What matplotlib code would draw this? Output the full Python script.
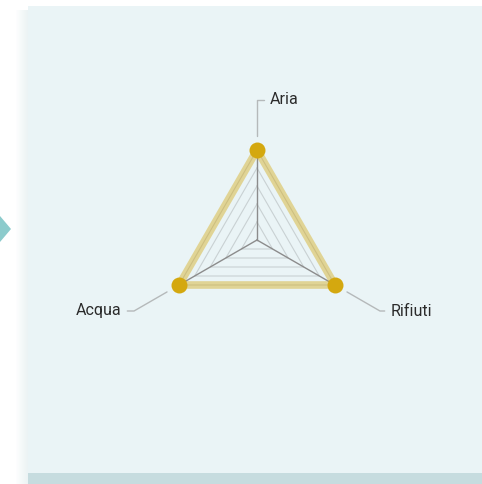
import numpy as np
import matplotlib.pyplot as plt
from matplotlib.patches import Rectangle, Polygon

# data
categories = ['Aria', 'Rifiuti', 'Acqua']
values = [100, 100, 100]
max_value = 100
grid_levels = [20, 40, 60, 80, 100]

W, H = 482, 484
fig = plt.figure(figsize=(W / 100, H / 100), dpi=100)
fig.patch.set_facecolor('white')

# background card, pixel coordinates
bg = fig.add_axes([0, 0, 1, 1])
bg.set_xlim(0, W)
bg.set_ylim(H, 0)
bg.set_axis_off()
for i, a in enumerate(np.linspace(0.02, 0.22, 12)):
    bg.add_patch(Rectangle((16 + i, 10), 1, 474, color='#a9cbce', alpha=a, lw=0))
bg.add_patch(Rectangle((28, 473), W - 28, 11, color='#c6dcdf', lw=0))
bg.add_patch(Rectangle((28, 6), W - 28, 467, color='#eaf4f6', lw=0))
bg.add_patch(Polygon([(0, 216), (11, 229), (0, 242)], closed=True, color='#8ccbcc', lw=0))

# radar
cx, cy, R = 257, 240, 90
ax = fig.add_axes([(cx - R) / W, (H - cy - R) / H, 2 * R / W, 2 * R / H], projection='polar')
ax.set_theta_offset(np.pi / 2)
ax.set_theta_direction(-1)
ax.set_ylim(0, max_value)
ax.set_axis_off()
ax.patch.set_alpha(0)

theta = np.deg2rad(np.arange(len(categories)) * 360 / len(categories))
th_closed = np.append(theta, theta[0])

for lv in grid_levels:
    ax.plot(th_closed, [lv] * len(th_closed), color='#c9d1d3', lw=0.8, zorder=1)
for t in theta:
    ax.plot([t, t], [0, max_value], color='#8c8c8c', lw=1.0, zorder=2)

vals_closed = values + values[:1]
ax.plot(th_closed, vals_closed, color='#d4a80f', alpha=0.42, lw=5.5,
        solid_joinstyle='miter', zorder=3, clip_on=False)
ax.plot(theta, values, 'o', color='#d4a80f', ms=11.5, mec='none', zorder=4, clip_on=False)

# labels with leader lines
label_setup = {
    'Aria': ((13, 50), 'left', 90),
    'Rifiuti': ((56, -26), 'left', -30),
    'Acqua': ((-58, -26), 'right', 30),
}
for t, name in zip(theta, categories):
    off, ha, ang = label_setup[name]
    ax.annotate(name, xy=(t, max_value), xytext=off, textcoords='offset pixels',
                ha=ha, va='center', fontsize=11.5, color='#2b2b2b', family='Roboto',
                annotation_clip=False,
                arrowprops=dict(arrowstyle='-', color='#b5b9ba', lw=1.0,
                                shrinkA=2.5, shrinkB=10,
                                connectionstyle=f'angle,angleA=0,angleB={ang},rad=0'))

fig.savefig('out.png', dpi=100)
